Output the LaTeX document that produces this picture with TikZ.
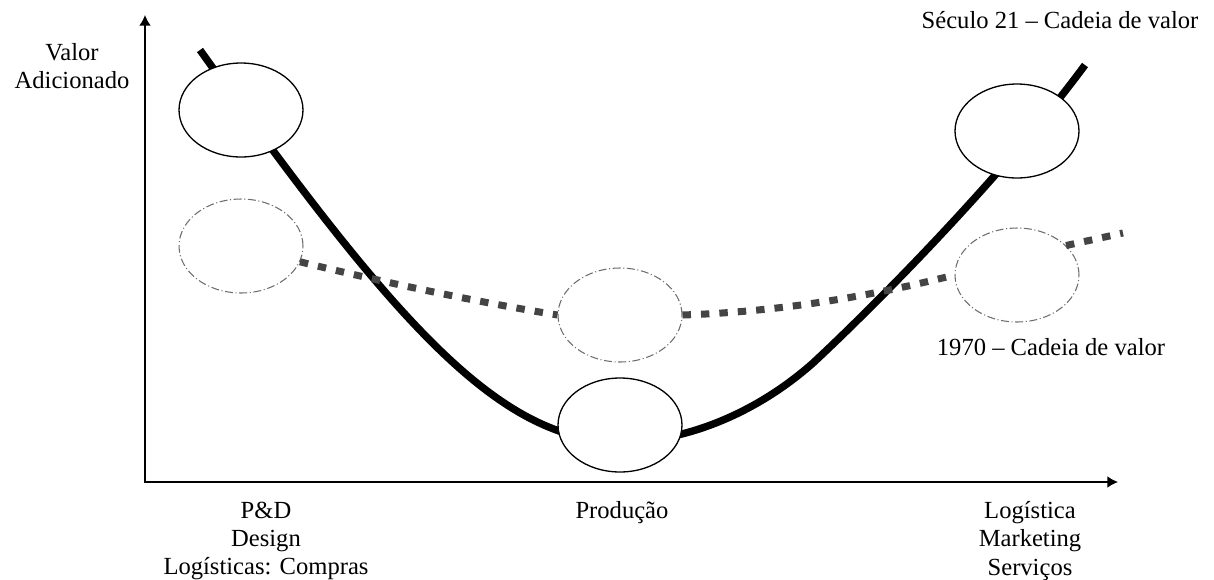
\documentclass[tikz,border=0pt]{standalone}
\usepackage{fontspec}
\setmainfont{Liberation Serif}
\usetikzlibrary{shapes.geometric, arrows.meta, positioning, calc}
\definecolor{oldgray}{HTML}{444444}
\definecolor{ringgray}{HTML}{6E6E6E}

\begin{document}
\begin{tikzpicture}[x=0.02cm, y=-0.02cm,
		bub/.style={draw=black, line width=0.75pt, fill=white, ellipse,
			minimum width=2.48cm, minimum height=1.88cm, inner sep=0pt},
		ghost/.style={draw=ringgray, line width=0.6pt, fill=white, ellipse,
			dash pattern=on 4.5pt off 1.5pt on 0.6pt off 1.5pt,
			minimum width=2.48cm, minimum height=1.88cm, inner sep=0pt},
		lbl/.style={align=center, font=\fontsize{14}{16}\selectfont, inner sep=0pt},
		axis/.style={line width=0.7pt, {Latex[length=6pt,width=6.5pt]}-{Latex[length=6pt,width=6.5pt]}},
		new/.style={line width=4.2pt},
		old/.style={line width=4pt, oldgray, dash pattern=on 4.8pt off 5.7pt}
		]
		\useasboundingbox (0,0) rectangle (1214,579);
		
		% ── Axes ──
		\coordinate (o) at (145,482);
		\coordinate (ytip) at (145,15);
		\coordinate (xtip) at (1118,482);
		\draw[axis] (ytip) -- (o) -- (xtip);
		
		% ── Século 21 curve ──
		\coordinate (s21a) at (200,50);
		\coordinate (s21m) at (620,442);
		\coordinate (s21b) at (1085,65);
		\draw[new] (s21a) .. controls (400,330) and (500,440) .. (s21m)
			.. controls (690,442) and (760,410) .. (813,363)
			.. controls (870,310) and (1000,180) .. (s21b);
		
		% ── Circles ──
		\node[bub] (lnew) at (241,110) {};
		\node[bub] (cnew) at (620,425) {};
		\node[bub] (rnew) at (1017,131) {};
		\node[ghost] (lold) at (241,246) {};
		\node[ghost] (cold) at (620,315) {};
		\node[ghost] (rold) at (1017,275) {};
		
		% ── 1970 curve ──
		\coordinate (s70b) at (1123,233);
		\draw[old] (lold.-15) .. controls (387,283) and (472,301) .. (cold.west);
		\draw[old] (cold.east) .. controls (773,312) and (864,298) .. (rold.west);
		\draw[old] (rold.31) -- (s70b);
		
		% ── Labels ──
		\node[lbl] (yl) at (72,66) {Valor\\Adicionado};
		\node[lbl] (t21) at (1060,20) {Século 21 – Cadeia de valor};
		\node[lbl] (t70) at (1051,347) {1970 – Cadeia de valor};
		\node[lbl] (pd) at (266,541) {P\&D\\Design\\Logísticas: Compras};
		\node[lbl] (prod) at (622,513) {Produção};
		\node[lbl] (logi) at (1030,541) {Logística\\Marketing\\Serviços};
	\end{tikzpicture}
\end{document}
